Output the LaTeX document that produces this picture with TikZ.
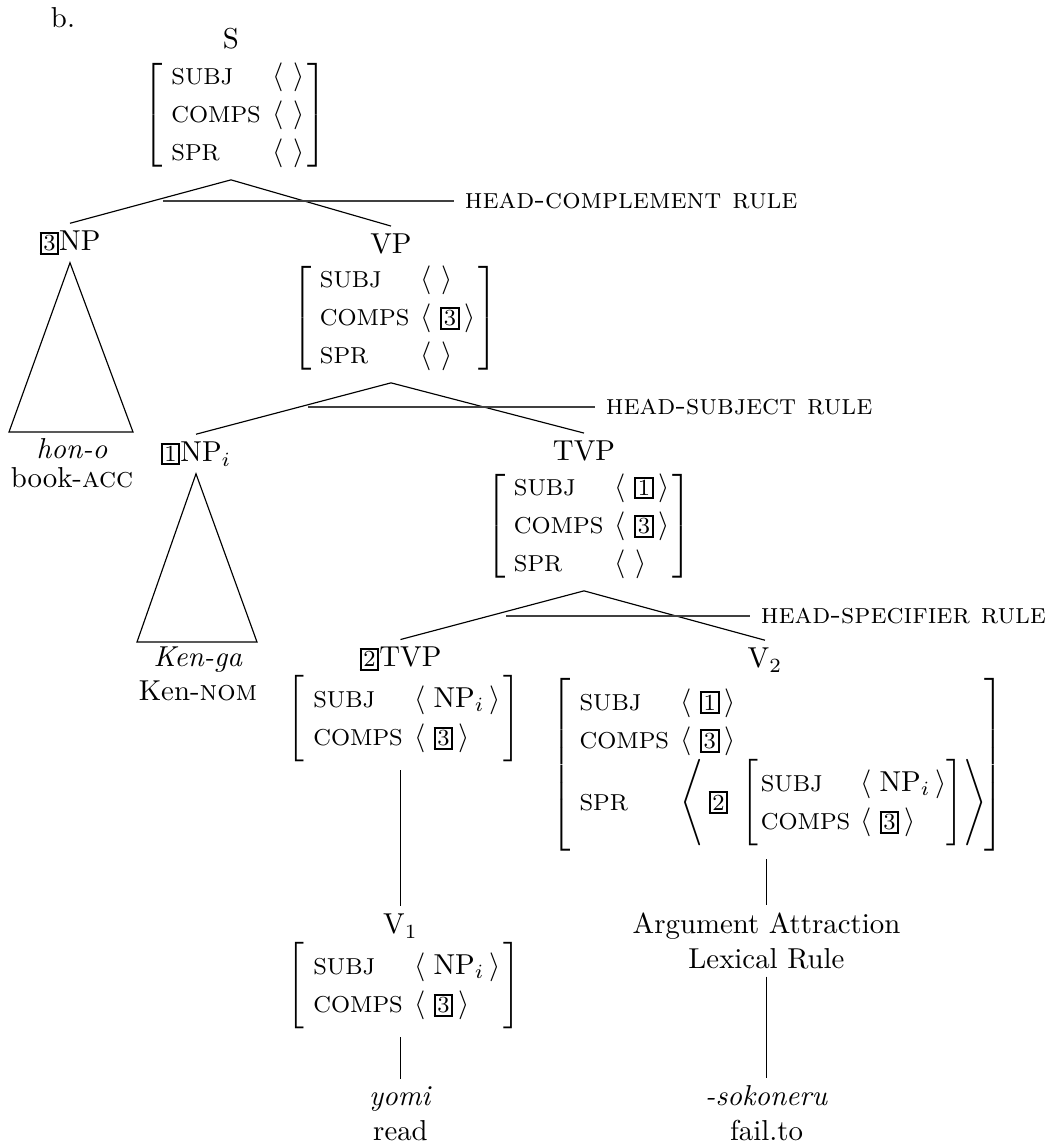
\documentclass[tikz,border=0pt]{standalone}
\usepackage{amsmath}
\usetikzlibrary{calc}

\newcommand{\tg}[1]{{\setlength{\fboxsep}{0.6pt}\setlength{\fboxrule}{0.7pt}\fbox{\footnotesize #1}}}
\newcommand{\ft}[1]{\text{\footnotesize #1}}
\newcommand{\elist}{\langle\ \rangle}
\newcommand{\vlist}[1]{\langle\;#1\,\rangle}
\newcommand{\avmm}[1]{\left[\begin{array}{@{\hspace{3pt}}l@{\hspace{4pt}}l@{\hspace{1pt}}}#1\end{array}\right]}
\newcommand{\avmin}[1]{\left[\begin{array}{@{\hspace{1pt}}l@{\hspace{3.5pt}}l@{}}#1\end{array}\right]}
\newcommand{\avmbox}[2][5pt]{$\renewcommand{\arraystretch}{1.1}\delimitershortfall=#1\relax\avmm{#2}$}

\begin{document}
\begin{tikzpicture}[x=0.347pt,y=-0.347pt,
  cat/.style={inner sep=2.5pt},
  avmnode/.style={inner sep=2.5pt},
  leaf/.style={align=center,inner sep=2.5pt},
  rulename/.style={anchor=west,inner sep=0pt,outer sep=3.8pt,font=\scshape}]
  \useasboundingbox (0,0) rectangle (1054,1144);

  \node (lbl) at (63,18) {b.};
  % S and its daughters
  \node[cat] (s) at (231,39) {S};
  \node[avmnode] (sfs) at (235,115) {\avmbox{\ft{SUBJ} & \elist\\ \ft{COMPS} & \elist\\ \ft{SPR} & \elist}};
  \node[cat] (np) at (70,243) {\tg{3}NP};
  \node[cat] (vp) at (391,244) {VP};
  \node[avmnode] (vpfs) at (395,318) {\avmbox{\ft{SUBJ} & \elist\\ \ft{COMPS} & \vlist{\tg{3}}\\ \ft{SPR} & \elist}};
  % VP and its daughters
  \node[cat] (npi) at (196,454) {\tg{1}NP$_i$};
  \node[cat] (tvp) at (584,451) {TVP};
  \node[avmnode] (tvpfs) at (589,526) {\avmbox{\ft{SUBJ} & \vlist{\tg{1}}\\ \ft{COMPS} & \vlist{\tg{3}}\\ \ft{SPR} & \elist}};
  % TVP and its daughters
  \node[cat] (tvpb) at (400.5,659) {\tg{2}TVP};
  \node[avmnode] (tvpbfs) at (404,719) {\avmbox[1pt]{\ft{SUBJ} & \vlist{\mathrm{NP}_i}\\ \ft{COMPS} & \vlist{\tg{3}}}};
  \node[cat] (vtwo) at (765,660) {V$_2$};
  \node[avmnode,anchor=west] (vtwofs) at (544,765) {\avmbox[1pt]{\ft{SUBJ} & \vlist{\tg{1}}\\ \ft{COMPS} & \vlist{\tg{3}}\\
    \ft{SPR} & \left\langle\,\tg{2}\;\avmin{\ft{SUBJ} & \vlist{\mathrm{NP}_i}\\ \ft{COMPS} & \vlist{\tg{3}}}\right\rangle\!}};
  % lexical level
  \node[cat] (vone) at (400.5,926) {V$_1$};
  \node[avmnode] (vonefs) at (404,986) {\avmbox[1pt]{\ft{SUBJ} & \vlist{\mathrm{NP}_i}\\ \ft{COMPS} & \vlist{\tg{3}}}};
  \node[leaf] (aalr) at (766.5,941) {Argument Attraction\\Lexical Rule};
  \node[leaf] (hono) at (72,463) {\textit{hon-o}\\[-2pt]book-\textsc{acc}};
  \node[leaf] (kenga) at (198,674) {\textit{Ken-ga}\\Ken-\textsc{nom}};
  \node[leaf] (yomi) at (400.5,1114) {\textit{yomi}\\read};
  \node[leaf] (soko) at (766.5,1113) {\textit{-sokoneru}\\fail.to};

  \coordinate (sapex) at (s |- sfs.south);
  \coordinate (vpapex) at (vp |- vpfs.south);
  \coordinate (tvpapex) at (tvp |- tvpfs.south);

  \foreach \m/\d in {sapex/np, sapex/vp, vpapex/npi, vpapex/tvp, tvpapex/tvpb, tvpapex/vtwo}
    \draw (\m) -- (\d.north);

  % triangles
  \draw (np.south) -- (9,432) -- (133,432) -- cycle;
  \draw (npi.south) -- (137,642) -- (257,642) -- cycle;

  % unary branches
  \draw (vone |- tvpbfs.south) -- (vone.north);
  \draw (vone |- vonefs.south) -- (yomi.north);
  \draw (aalr |- vtwofs.south) -- (aalr.north);
  \draw (aalr.south) -- (soko.north);

  % rule names
  \foreach \nm/\xa/\xb/\y/\txt in {hc/163/454/201/head-complement rule, hs/308/595/407/head-subject rule, hsp/506/750/616/head-specifier rule} {
    \node[rulename] (\nm) at (\xb,\y) {\txt};
    \coordinate (\nm-start) at (\xa,\y);
    \draw[black!75] (\nm-start) -- (\nm.west);
  }
\end{tikzpicture}
\end{document}
